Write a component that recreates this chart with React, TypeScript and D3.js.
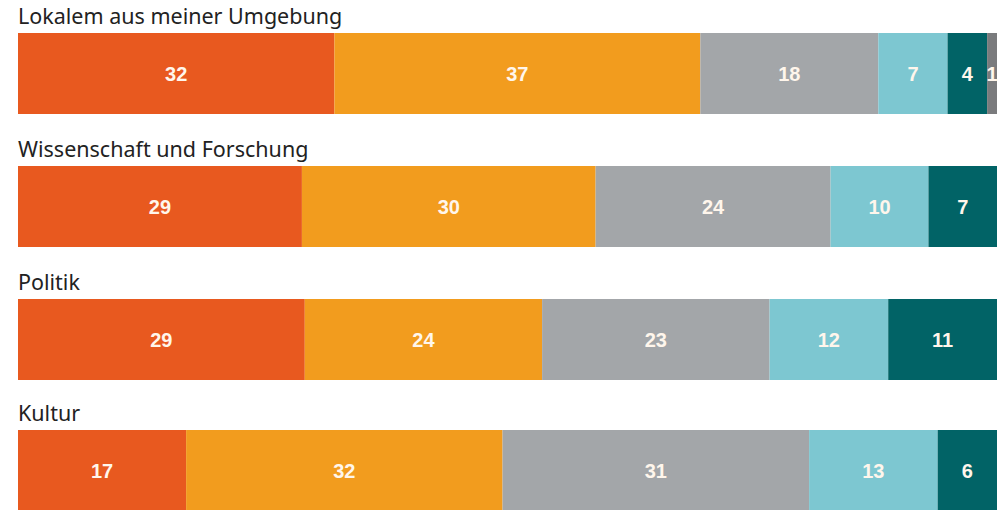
import React from "react";
import * as d3 from "d3";

const categories = ["Lokalem aus meiner Umgebung", "Wissenschaft und Forschung", "Politik", "Kultur"];
const values: number[][] = [
  [32, 37, 18, 7, 4, 1],
  [29, 30, 24, 10, 7],
  [29, 24, 23, 12, 11],
  [17, 32, 31, 13, 6],
];
const colors = ["#E8591F", "#F29C1E", "#A3A6A9", "#7DC7D1", "#016366", "#7A7B7D"];

const W = 998;
const H = 510;
const left = 18;
const right = 997;
const barTops = [33, 166, 299, 430];
const barH = 81;

export default function App() {
  return (
    <svg width={W} height={H} style={{ position: "absolute", left: 0, top: 0, background: "#fff" }}>
      {categories.map((cat, i) => {
        const row = values[i];
        const total = d3.sum(row);
        const x = d3.scaleLinear().domain([0, total]).range([left, right]);
        const cum = d3.cumsum(row);
        const y0 = barTops[i];
        return (
          <g key={cat}>
            <text x={left} y={y0 - 9} fontFamily="'Noto Sans', sans-serif" fontSize={21.5} fill="#222" textLength={cat.length > 10 ? undefined : undefined}>
              {cat}
            </text>
            {row.map((v, j) => {
              const start = cum[j] - v;
              const x0 = x(start);
              const x1 = x(cum[j]);
              const cx = (x0 + x1) / 2;
              return (
                <g key={j}>
                  <rect x={x0} y={y0} width={x1 - x0} height={barH} fill={colors[j]} />
                  <text
                    x={cx}
                    y={y0 + barH / 2}
                    dy="0.36em"
                    textAnchor="middle"
                    fontFamily="'Liberation Sans', Arial, sans-serif"
                    fontWeight="bold"
                    fontSize={20}
                    fill="#FFF6EC"
                  >
                    {v}
                  </text>
                </g>
              );
            })}
          </g>
        );
      })}
    </svg>
  );
}
